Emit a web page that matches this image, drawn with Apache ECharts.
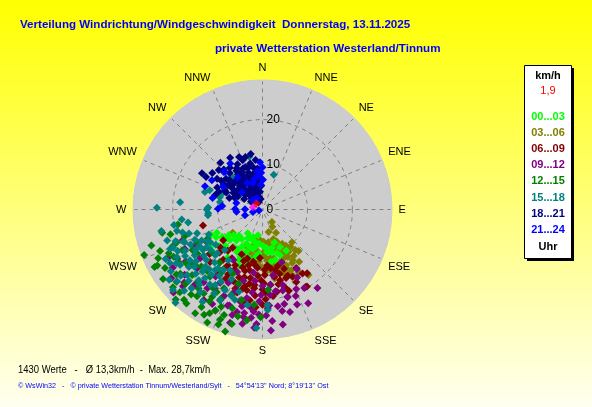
<!DOCTYPE html>
<html>
<head>
<meta charset="utf-8">
<title>Verteilung Windrichtung/Windgeschwindigkeit</title>
<script src="https://cdn.jsdelivr.net/npm/echarts@6/dist/echarts.min.js"></script>
<style>
  html, body { margin: 0; padding: 0; }
  #chart { width: 592px; height: 407px; }
</style>
</head>
<body>
<div id="chart"></div>
<script>
// ------------------------------  Daten ---------------------------
// 16 Himmelsrichtungen, ab Nord im Uhrzeigersinn
const richtungen = ['N', 'NNE', 'NE', 'ENE', 'E', 'ESE', 'SE', 'SSE',
  'S', 'SSW', 'SW', 'WSW', 'W', 'WNW', 'NW', 'NNW'];
const radiusTicks = [0, 10, 20];
const maxSpeed = 28.7;

// Zeitbereiche (Uhr) und ihre Farben
const bereiche = ['00...03', '03...06', '06...09', '09...12', '12...15', '15...18', '18...21', '21...24'];
const farben = ['#00ff00', '#808000', '#800000', '#800080', '#008000', '#008080', '#000080', '#0000ff'];
// Zeichenreihenfolge der Bereiche (olivgrün liegt unter hellgrün)
const reihenfolge = [1, 0, 2, 3, 4, 5, 6, 7];

// Messwerte: [Geschwindigkeit km/h, Richtung Grad]
const werte0003 = [
  [11.4, 243], [13.7, 235], [10.1, 231], [11.0, 211], [13.0, 198], [7.1, 207], [6.9, 204], [8.5, 191],
  [9.5, 174], [11.6, 166], [9.2, 155], [8.8, 166], [9.9, 227], [6.5, 199], [9.2, 170],
  [13.0, 210], [8.0, 215], [9.0, 220], [10.5, 218], [12.0, 222], [12.4, 205], [11.2, 196],
  [10.0, 201], [8.8, 198], [7.6, 186], [9.8, 185], [8.1, 179], [10.2, 162], [7.8, 160],
  [12.0, 239], [14.5, 228], [9.5, 209], [11.8, 171], [10.6, 150], [7.4, 194],
  [10.8, 236], [12.6, 230], [11.5, 226], [9.4, 233], [8.6, 228], [7.8, 222], [10.4, 212], [11.6, 205],
  [12.2, 199], [13.5, 202], [8.4, 205], [7.2, 196], [9.0, 194], [10.6, 188],
  [9.8, 168], [10.9, 159], [8.6, 174], [13.2, 216], [14.0, 238], [12.8, 244],
  [6.2, 212], [5.8, 190]
];
const werte0306 = [
  [8.4, 232], [3.5, 143], [9.8, 138], [12.0, 152], [13.1, 149], [17.8, 145], [9.4, 153], [17.4, 187],
  [10.9, 171], [13.2, 170], [9.9, 196], [6.8, 185], [7.9, 176], [12.3, 162], [14.4, 160], [8.8, 206],
  [9.0, 165], [10.2, 158], [11.0, 148], [11.8, 156], [12.6, 166], [11.4, 175], [10.0, 180], [9.2, 188],
  [8.2, 194], [7.4, 170], [8.5, 160], [10.6, 190], [11.6, 184], [12.9, 178], [13.8, 172], [14.6, 165],
  [15.0, 155], [11.2, 200], [7.0, 160], [6.0, 150], [16.2, 150], [10.4, 143], [12.2, 187], [13.5, 157],
  [9.6, 147], [10.8, 153], [12.4, 146], [13.6, 151], [14.2, 145], [11.6, 141], [8.8, 150], [7.8, 156],
  [9.8, 162], [11.2, 167], [12.0, 172], [13.0, 163], [14.0, 158], [15.4, 161], [16.4, 155], [10.5, 177],
  [12.8, 182], [9.6, 179], [8.4, 168], [7.2, 178], [6.4, 190], [9.4, 200], [11.6, 193], [13.9, 177],
  [15.6, 170], [12.2, 139], [5.2, 165], [4.4, 150]
];
const werte0609 = [
  [11.1, 232], [10.8, 218], [15.7, 159], [16.4, 156], [19.7, 151], [17.3, 145], [19.8, 150], [16.2, 166],
  [21.8, 184], [18.3, 191], [13.7, 255], [13.8, 192], [14.6, 178], [13.8, 206], [15.0, 219], [16.9, 174],
  [16.9, 186], [13.8, 168], [12.2, 200], [13.0, 185], [14.2, 196], [15.5, 190], [15.8, 181], [16.0, 199],
  [17.5, 193], [17.8, 180], [18.6, 170], [15.2, 170], [14.0, 160], [12.5, 175], [11.8, 190], [12.8, 212],
  [14.6, 212], [16.3, 208], [17.2, 202], [19.2, 185], [20.0, 178], [18.0, 164], [13.5, 225], [12.0, 220],
  [11.0, 205], [10.8, 183], [15.0, 150], [21.0, 192], [19.3, 197], [17.0, 215], [14.4, 240], [16.5, 225],
  [13.4, 178], [14.8, 184], [15.6, 195], [16.8, 190], [17.6, 186], [18.5, 178], [19.4, 173], [17.0, 168],
  [16.1, 161], [14.8, 165], [13.2, 172], [12.4, 188], [13.6, 199], [14.8, 205], [15.8, 213], [17.4, 208],
  [18.6, 199], [20.4, 188], [21.2, 180], [19.0, 162], [17.8, 155], [16.8, 148], [12.8, 194], [11.4, 197],
  [12.6, 228], [14.2, 218], [15.4, 230], [18.2, 194], [16.4, 179], [13.0, 165]
];
const werte0912 = [
  [23.5, 243], [19.0, 249], [23.8, 227], [23.8, 237], [22.6, 222], [17.6, 232], [27.1, 227], [23.2, 222],
  [22.7, 200], [23.5, 194], [23.4, 190], [21.9, 187], [22.0, 177], [24.9, 175], [23.0, 169], [15.3, 150],
  [20.2, 164], [24.3, 190], [24.8, 205], [12.5, 160], [21.3, 145], [17.4, 165], [20.3, 164], [19.1, 175],
  [20.5, 182], [18.6, 187], [21.0, 194], [19.4, 199], [22.3, 205], [20.6, 211], [18.0, 205], [16.4, 195],
  [17.0, 180], [18.4, 171], [21.8, 171], [22.5, 160], [19.2, 157], [17.0, 153], [14.8, 171], [16.0, 186],
  [15.0, 202], [25.5, 183], [26.2, 196], [24.0, 213], [20.8, 219], [19.6, 228], [21.9, 240], [16.9, 242],
  [25.4, 233], [14.2, 188], [13.0, 210], [18.2, 215], [23.4, 182], [26.0, 170],
  [21.4, 176], [22.8, 185], [23.6, 178], [24.4, 196], [22.0, 192], [20.0, 190], [19.0, 181], [18.6, 166],
  [20.6, 159], [21.6, 167], [23.6, 165], [22.6, 199], [23.8, 208], [21.4, 215], [22.6, 230], [20.6, 236],
  [19.4, 243], [24.6, 226], [21.0, 204], [18.8, 210], [17.6, 198], [16.8, 174], [25.8, 190], [24.2, 186],
  [26.4, 184], [27.0, 176], [19.8, 152], [23.2, 154]
];
const werte1215 = [
  [22.9, 257], [28.2, 249], [26.5, 242], [19.1, 260], [21.4, 248], [23.2, 232], [26.4, 229], [26.0, 225],
  [26.9, 219], [24.7, 220], [25.9, 207], [24.8, 205], [23.5, 203], [26.4, 195], [28.4, 197], [24.9, 188],
  [22.4, 210], [20.7, 193], [17.9, 176], [20.4, 249], [18.3, 251], [16.3, 244], [20.0, 232], [24.0, 233],
  [21.6, 222], [21.0, 209], [19.0, 218], [17.3, 198], [15.2, 219], [25.3, 239], [27.0, 235], [23.0, 245],
  [22.0, 238], [18.6, 227], [22.8, 215], [25.6, 212], [27.5, 213], [20.2, 200], [23.0, 197], [19.5, 206],
  [16.6, 213], [14.8, 230], [17.5, 236], [26.2, 201], [24.0, 181], [21.3, 185], [27.8, 224], [28.0, 206],
  [13.8, 242], [15.8, 205],
  [23.8, 226], [25.0, 230], [26.6, 221], [24.2, 217], [22.6, 219], [21.4, 227], [20.8, 235], [22.4, 242],
  [24.6, 248], [26.0, 252], [21.2, 255], [20.0, 243], [18.0, 240], [19.4, 230], [23.6, 210], [25.0, 200],
  [22.0, 205], [26.8, 209], [27.4, 201], [24.4, 193], [20.6, 213], [18.4, 222], [27.2, 242], [25.6, 245]
];
const werte1518 = [
  [13.4, 287], [12.5, 290], [9.5, 293], [9.9, 286], [9.6, 280], [12.1, 272], [12.1, 266], [12.1, 346],
  [7.3, 338], [9.9, 317], [8.1, 18], [23.5, 271], [18.4, 275], [12.4, 270], [12.2, 264],
  [18.1, 263], [16.8, 260], [22.3, 252], [22.3, 247], [18.5, 254], [21.8, 241], [26.8, 228], [28.4, 223],
  [16.0, 236], [19.8, 230], [19.9, 220], [22.4, 177], [26.4, 183], [13.7, 238], [19.5, 242], [19.7, 235],
  [22.1, 236], [21.8, 220], [17.1, 218], [16.5, 246], [12.3, 223], [15.2, 243], [17.4, 239], [18.8, 232],
  [20.6, 226], [23.4, 231], [24.6, 236], [21.0, 244], [16.8, 228], [14.6, 232], [18.0, 225], [20.4, 215],
  [23.0, 217], [25.1, 224], [15.5, 250], [19.0, 248], [24.2, 243], [17.6, 213], [21.5, 210], [13.2, 245],
  [14.0, 226], [22.8, 226], [26.0, 233], [20.1, 239], [18.4, 218], [15.9, 222], [24.5, 213], [23.8, 240],
  [16.2, 240], [17.8, 244], [18.8, 247], [20.6, 250], [21.6, 247], [19.6, 256], [17.2, 252], [15.0, 236],
  [16.6, 232], [18.2, 236], [20.8, 232], [22.2, 229], [19.2, 224], [17.8, 222], [16.4, 217], [21.2, 222],
  [23.6, 222], [19.8, 212], [22.6, 238], [24.8, 230], [14.2, 240], [13.0, 233], [20.0, 260], [23.0, 258],
  [15.3, 208], [19.8, 205], [14.6, 226], [21.0, 197], [22.3, 205], [21.5, 189], [21.3, 177], [17.0, 204],
  [18.5, 210], [16.0, 213], [20.4, 200], [13.6, 214], [19.0, 196]
];
const werte1821 = [
  [15.7, 301], [13.6, 328], [12.3, 342], [12.8, 336], [11.5, 331], [11.8, 322], [10.9, 318], [10.4, 326],
  [10.1, 334], [9.8, 341], [9.5, 348], [9.2, 353], [9.9, 312], [9.0, 308], [8.7, 316], [8.4, 322],
  [8.8, 329], [8.1, 337], [7.9, 344], [7.6, 350], [7.2, 355], [8.2, 305], [7.5, 300], [7.0, 309],
  [7.3, 316], [6.9, 324], [6.6, 331], [6.4, 339], [6.0, 346], [5.7, 352], [5.3, 357], [6.2, 298],
  [6.5, 305], [5.9, 312], [5.5, 320], [5.1, 328], [4.8, 336], [4.4, 344], [4.0, 352], [3.6, 340],
  [4.7, 300], [5.0, 310], [4.3, 318], [3.9, 327], [3.2, 333], [3.5, 315], [2.9, 345], [2.6, 320],
  [11.2, 296], [10.5, 292], [12.2, 304], [13.1, 312], [14.0, 318], [13.8, 306], [9.4, 297], [11.0, 287],
  [10.3, 303], [8.9, 295], [7.8, 289], [12.6, 348], [11.1, 352], [10.6, 345], [14.5, 300], [6.8, 293],
  [3.1, 305], [2.4, 350], [1.8, 330],
  [10.8, 328], [10.2, 338], [9.4, 331], [8.8, 339], [8.0, 332], [7.4, 326], [7.8, 319], [8.6, 311],
  [9.4, 305], [10.6, 310], [11.2, 305], [7.0, 339], [6.2, 332], [5.6, 336], [5.0, 343], [4.6, 324],
  [6.4, 318], [7.2, 302], [9.6, 325], [11.8, 338], [12.4, 316], [8.2, 346], [6.6, 349], [4.0, 331]
];
const werte2124 = [
  [9.4, 0], [8.2, 358], [6.6, 1], [7.5, 354], [6.3, 340], [6.8, 330], [2.8, 334], [13.8, 292],
  [12.0, 314], [9.9, 271], [6.1, 271], [3.9, 271], [3.0, 315], [6.0, 310], [4.1, 252], [2.2, 255],
  [9.0, 322], [11.8, 315], [7.0, 345], [5.5, 356], [10.2, 300], [6.0, 284], [12.5, 325], [0.8, 255],
  [10.5, 357], [8.6, 352], [5.8, 265], [9.0, 275], [13.0, 300], [11.4, 283]
];
const aktuell = [[1.9, 315]];
const vorher = [[2.2, 283]];

const alleWerte = [werte0003, werte0306, werte0609, werte0912, werte1215, werte1518, werte1821, werte2124];

// ------------------------------  Diagramm ---------------------------
(function () {
  let myChart = echarts.init(document.getElementById('chart'));
  const font = "'Liberation Sans', Arial, sans-serif";
  const mitte = [262.5, 209.5];
  const gestrichelt = { color: '#808080', type: [4, 4], width: 1 };

  // Streupunkte je Zeitbereich (im oberen Polar-System)
  let series = reihenfolge.map(function (i) {
    return {
      name: bereiche[i],
      type: 'scatter',
      coordinateSystem: 'polar',
      polarIndex: 1,
      symbol: 'diamond',
      symbolSize: 8,
      itemStyle: { color: farben[i], opacity: 1 },
      data: alleWerte[i],
      silent: true
    };
  });
  series.push({
    type: 'scatter', coordinateSystem: 'polar', polarIndex: 1, symbol: 'diamond', symbolSize: 8,
    itemStyle: { color: '#ff00ff' }, data: vorher, z: 5
  });
  series.push({
    type: 'scatter', coordinateSystem: 'polar', polarIndex: 1, symbol: 'diamond', symbolSize: 8,
    itemStyle: { color: '#ff0000' }, data: aktuell, z: 5
  });

  // Legendenkasten rechts
  let legendTexts = [
    { text: 'km/h', y: 76, color: '#000', weight: 'bold' },
    { text: '1,9', y: 91, color: '#ff0000', weight: 'normal' }
  ];
  bereiche.forEach(function (b, i) {
    legendTexts.push({ text: b, y: 117 + i * 16.1, color: farben[i], weight: 'bold' });
  });
  legendTexts.push({ text: 'Uhr', y: 247, color: '#000', weight: 'bold' });

  let graphic = [
    { type: 'rect', shape: { x: 527, y: 68, width: 47, height: 193 }, style: { fill: '#000' } },
    { type: 'rect', shape: { x: 524.5, y: 65.5, width: 47, height: 193 }, style: { fill: '#fff', stroke: '#000', lineWidth: 1 } }
  ];
  legendTexts.forEach(function (t) {
    graphic.push({
      type: 'text', x: 548, y: t.y,
      style: { text: t.text, fill: t.color, font: t.weight + ' 11px ' + font, align: 'center', verticalAlign: 'middle' }
    });
  });

  // Kopf- und Fusszeilen
  graphic.push({
    type: 'text', x: 20, y: 25,
    style: { text: 'Verteilung Windrichtung/Windgeschwindigkeit  Donnerstag, 13.11.2025', fill: '#0000ff', font: 'bold 11.6px ' + font, verticalAlign: 'middle' }
  });
  graphic.push({
    type: 'text', x: 215, y: 49,
    style: { text: 'private Wetterstation Westerland/Tinnum', fill: '#0000ff', font: 'bold 11.6px ' + font, verticalAlign: 'middle' }
  });
  graphic.push({
    type: 'text', x: 18, y: 370, scaleX: 0.86,
    style: { text: '1430 Werte   -   \u00d8 13,3km/h  -  Max. 28,7km/h', fill: '#000', font: '11px ' + font, verticalAlign: 'middle' }
  });
  graphic.push({
    type: 'text', x: 18, y: 386,
    style: { text: '\u00a9 WsWin32   -   \u00a9 private Wetterstation Tinnum/Westerland/Sylt   -   54\u00b054\'13\'\' Nord; 8\u00b019\'13\'\' Ost', fill: '#0000ff', font: '7.2px ' + font, verticalAlign: 'middle' }
  });

  let option = {
    backgroundColor: {
      type: 'linear', x: 0, y: 0, x2: 0, y2: 1,
      colorStops: [
        { offset: 0, color: '#ffff00' },
        { offset: 1, color: '#fffff0' }
      ]
    },
    animation: false,
    // Polar 0: nur die graue Scheibe, Polar 1: Gitter, Beschriftung, Punkte
    polar: [
      { center: mitte, radius: 129 },
      { center: mitte, radius: 129 }
    ],
    angleAxis: [
      {
        polarIndex: 0, type: 'value', min: 0, max: 360, interval: 22.5, startAngle: 90, clockwise: true,
        axisLine: { show: false }, axisTick: { show: false }, axisLabel: { show: false },
        splitLine: { show: false },
        splitArea: { show: true, areaStyle: { color: ['#cdcdcd'] } },
        z: 0
      },
      {
        polarIndex: 1,
        type: 'value',
        min: 0,
        max: 360,
        interval: 22.5,
        startAngle: 90,
        clockwise: true,
        axisLine: { show: true, lineStyle: { color: '#cdcdcd', width: 2 } },
        axisTick: { show: false },
        axisLabel: {
          margin: 7,
          color: '#000',
          fontSize: 11,
          fontFamily: font,
          formatter: function (v) {
            let i = Math.round(v / 22.5);
            return i < 16 ? richtungen[i] : '';
          }
        },
        splitLine: { show: true, lineStyle: gestrichelt },
        z: 1
      }
    ],
    radiusAxis: [
      {
        polarIndex: 0, type: 'value', min: 0, max: maxSpeed,
        axisLine: { show: false }, axisTick: { show: false }, axisLabel: { show: false },
        splitLine: { show: false }, z: 0
      },
      {
        polarIndex: 1,
        type: 'value',
        min: 0,
        max: maxSpeed,
        interval: 10,
        axisLine: { show: false },
        axisTick: { show: false },
        axisLabel: {
          margin: -4,
          align: 'left',
          verticalAlign: 'middle',
          color: '#000',
          fontSize: 12,
          fontFamily: font,
          formatter: function (v) {
            return radiusTicks.indexOf(v) >= 0 ? String(v) : '';
          }
        },
        splitLine: { show: true, lineStyle: gestrichelt },
        z: 1
      }
    ],
    graphic: graphic,
    series: series
  };
  myChart.setOption(option);
})();
</script>
</body>
</html>
